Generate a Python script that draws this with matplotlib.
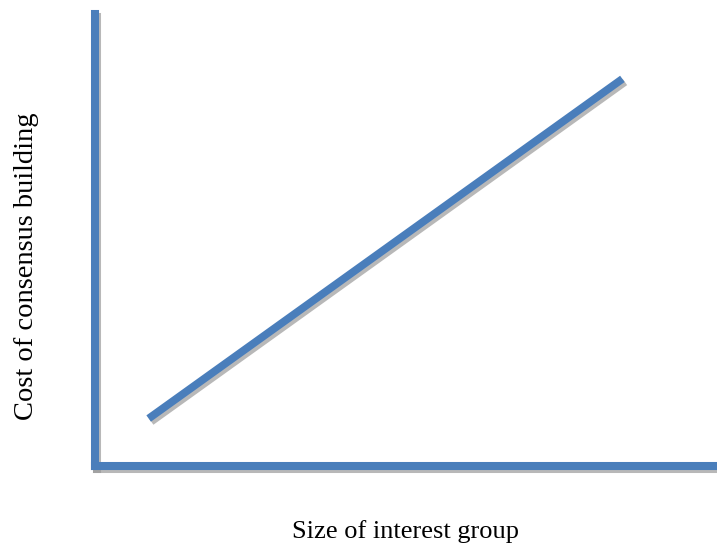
import matplotlib
matplotlib.use("Agg")
import matplotlib.pyplot as plt
import matplotlib.patheffects as pe

# conceptual diagram: cost rises linearly with group size
size = [0.87, 8.48]
cost = [1.04, 8.48]

blue = '#4a7ebb'
W, H = 717, 546

fig = plt.figure(figsize=(W / 100, H / 100), dpi=100)
# axes box placed in pixel terms of the reference
left, right, top, bottom = 94.5, 717, 13.5, 466
ax = fig.add_axes([left / W, 1 - bottom / H, (right - left) / W, (bottom - top) / H])
ax.set_xlim(0, 10)
ax.set_ylim(0, 10 * (bottom - top) / (466 - 9.5))

shadow = [pe.SimpleLineShadow(offset=(1.8, -2.2), shadow_color='#9a9a9a', alpha=0.7), pe.Normal()]
ax.plot(size, cost, color=blue, lw=5.6, solid_capstyle='butt', path_effects=shadow)

for s in ['top', 'right']:
    ax.spines[s].set_visible(False)
for s in ['left', 'bottom']:
    ax.spines[s].set_color(blue)
    ax.spines[s].set_linewidth(5.8)
    ax.spines[s].set_capstyle('projecting')
    ax.spines[s].set_path_effects([pe.SimpleLineShadow(offset=(1.8, -2.2), shadow_color='#9a9a9a', alpha=0.7), pe.Normal()])
ax.set_xticks([])
ax.set_yticks([])

fig.text(406 / W, 1 - 532 / H, 'Size of interest group', ha='center', va='center',
         family='Liberation Serif', fontsize=19)
fig.text(27 / W, 1 - 266 / H, 'Cost of consensus building', ha='center', va='center', rotation=90,
         family='Liberation Serif', fontsize=20.5)

fig.savefig('out.png', dpi=100)
